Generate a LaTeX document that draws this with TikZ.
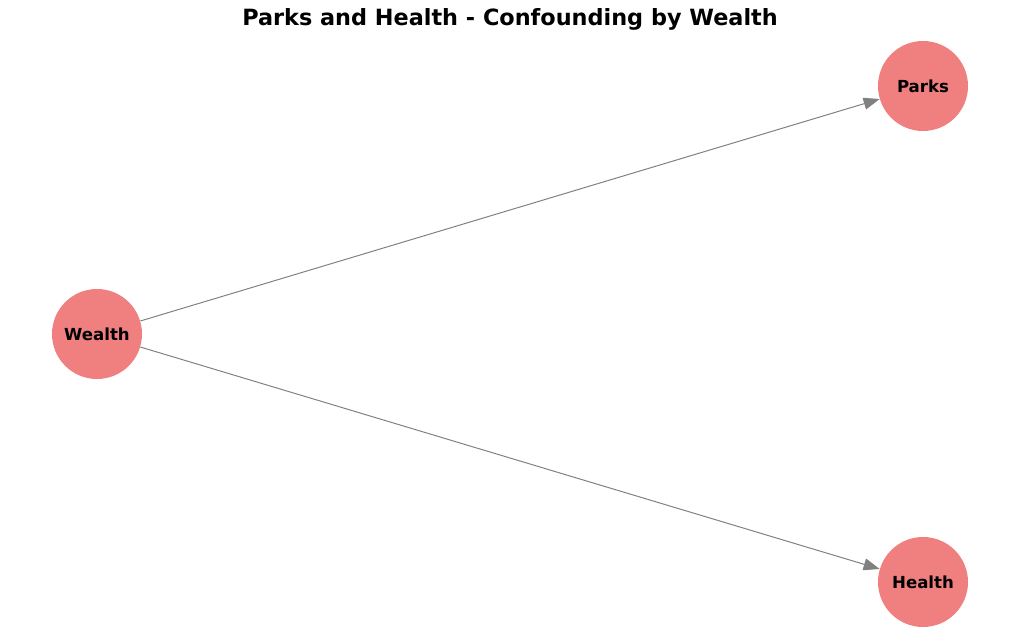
\documentclass[tikz,border=0pt]{standalone}
\usepackage{fontspec}
\setmainfont{DejaVu Sans}
\usetikzlibrary{arrows.meta, positioning}
\definecolor{coral}{HTML}{F08080}

\begin{document}
\begin{tikzpicture}[
    x=0.025cm, y=-0.025cm,
    var/.style={circle,fill=coral,minimum size=2.25cm,inner sep=0pt,font=\fontsize{11.8}{14}\selectfont\bfseries},
    edge/.style={draw=gray,line width=0.7pt,-{Triangle[length=0.4cm,width=0.3cm,fill=gray]}}
    ]
    \useasboundingbox (0,0) rectangle (1019,644);
    % Title
    \node[font=\fontsize{15.9}{18}\selectfont\bfseries] (title) at (510,19) {Parks and Health - Confounding by Wealth};
    
    % Nodes
    \node[var] (wealth) at (97,334) {Wealth};
    \node[var] (parks) at (923,86) {Parks};
    \node[var] (health) at (923,582) {Health};
    
    % Edges
    \draw[edge] (wealth) -- (parks);
    \draw[edge] (wealth) -- (health);
\end{tikzpicture}
\end{document}
